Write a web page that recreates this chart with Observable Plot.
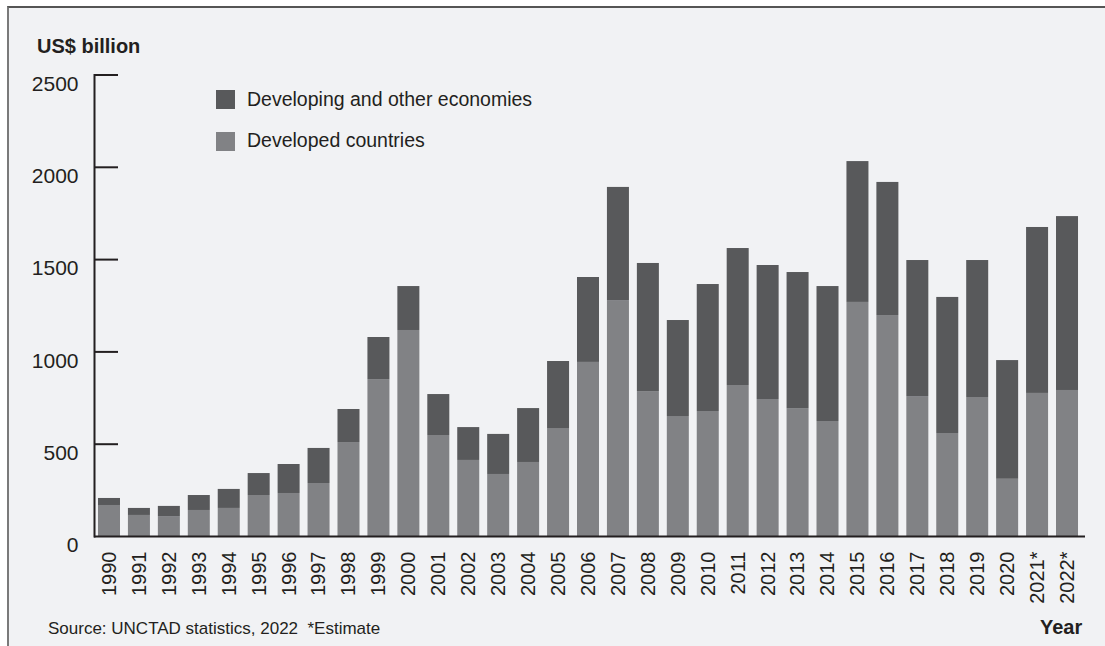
<!DOCTYPE html>
<html>
<head>
<meta charset="utf-8">
<script src="https://cdn.jsdelivr.net/npm/d3@7"></script>
<script src="https://cdn.jsdelivr.net/npm/@observablehq/plot@0.6"></script>
<style>
  html, body { margin: 0; padding: 0; background: #ffffff; overflow: hidden; }
  #wrap { position: relative; width: 1105px; height: 646px; overflow: hidden; font-family: "Liberation Sans", Arial, Helvetica, sans-serif; color: #231f20; }
  #panel { position: absolute; left: 7px; top: 6px; width: 1100px; height: 650px; background: #f1f2f4; border-left: 2px solid #7a7a7a; border-top: 2px solid #555555; }
  #chart { position: absolute; left: 0; top: 0; }
  .t { position: absolute; white-space: nowrap; line-height: 1; }
  .sw { position: absolute; width: 19px; height: 19px; }
</style>
</head>
<body>
<div id="wrap">
  <div id="panel"></div>
  <div id="chart"></div>
  <div class="t" style="left:37px; top:36px; font-size:20px; font-weight:bold;">US$ billion</div>
  <div class="sw" style="left:216px; top:90px; background:#58595b;"></div>
  <div class="t" style="left:247px; top:89.5px; font-size:19.5px;">Developing and other economies</div>
  <div class="sw" style="left:216px; top:132px; background:#818285;"></div>
  <div class="t" style="left:247px; top:131px; font-size:19.5px;">Developed countries</div>
  <div class="t" style="left:48px; top:620px; font-size:17px;">Source: UNCTAD statistics, 2022&nbsp;&nbsp;*Estimate</div>
  <div class="t" style="left:1040px; top:617px; font-size:20px; font-weight:bold;">Year</div>
</div>
<script>
const yearLabels = ["1990","1991","1992","1993","1994","1995","1996","1997","1998","1999",
  "2000","2001","2002","2003","2004","2005","2006","2007","2008","2009",
  "2010","2011","2012","2013","2014","2015","2016","2017","2018","2019",
  "2020","2021*","2022*"];
const developed = [168,114,108,141,152,222,233,287,509,850,
  1116,547,412,336,401,585,943,1278,785,650,
  677,818,742,693,623,1268,1197,758,558,753,
  310,775,791];
const developing = [38,38,55,81,103,119,157,190,179,228,
  238,222,178,217,292,363,460,613,694,520,
  688,742,726,737,731,763,721,737,737,742,
  643,899,942];
const seriesNames = ["Developed countries","Developing and other economies"];
const seriesColors = ["#818285","#58595b"];
const yTicks = [0,500,1000,1500,2000,2500];

const rows = [];
yearLabels.forEach((y, i) => rows.push({year: y, series: seriesNames[0], value: developed[i]}));
yearLabels.forEach((y, i) => rows.push({year: y, series: seriesNames[1], value: developing[i]}));

const W = 1105, H = 646, mL = 94, mR = 23, mT = 74.5, mB = 110;
const frameW = W - mL - mR;

const chart = Plot.plot({
  width: W, height: H,
  marginTop: mT, marginBottom: mB, marginLeft: mL, marginRight: mR,
  style: {background: "transparent", fontFamily: "'Liberation Sans', Arial, Helvetica, sans-serif", color: "#231f20", overflow: "visible"},
  x: {domain: yearLabels, paddingInner: 0.265, paddingOuter: 0.133, axis: null},
  y: {domain: [0, 2500], axis: null},
  color: {domain: seriesNames, range: seriesColors},
  marks: [
    Plot.barY(rows, {x: "year", y: "value", fill: "series"}),
    Plot.axisX({tickSize: 0, tickPadding: 15, tickRotate: -90, fontSize: 20, label: null, fill: "#231f20"}),
    Plot.axisY({ticks: yTicks, tickSize: 0, tickPadding: 16, dy: 9, fontSize: 21, label: null, fill: "#231f20", tickFormat: d => String(d)}),
    Plot.ruleY(yTicks.filter(d => d > 0), {stroke: "#231f20", strokeWidth: 2, insetRight: frameW - 24}),
    Plot.ruleY([0], {stroke: "#231f20", strokeWidth: 2, insetRight: -3}),
    Plot.frame({anchor: "left", stroke: "#231f20", strokeWidth: 2})
  ]
});
document.getElementById("chart").appendChild(chart);
</script>
</body>
</html>
